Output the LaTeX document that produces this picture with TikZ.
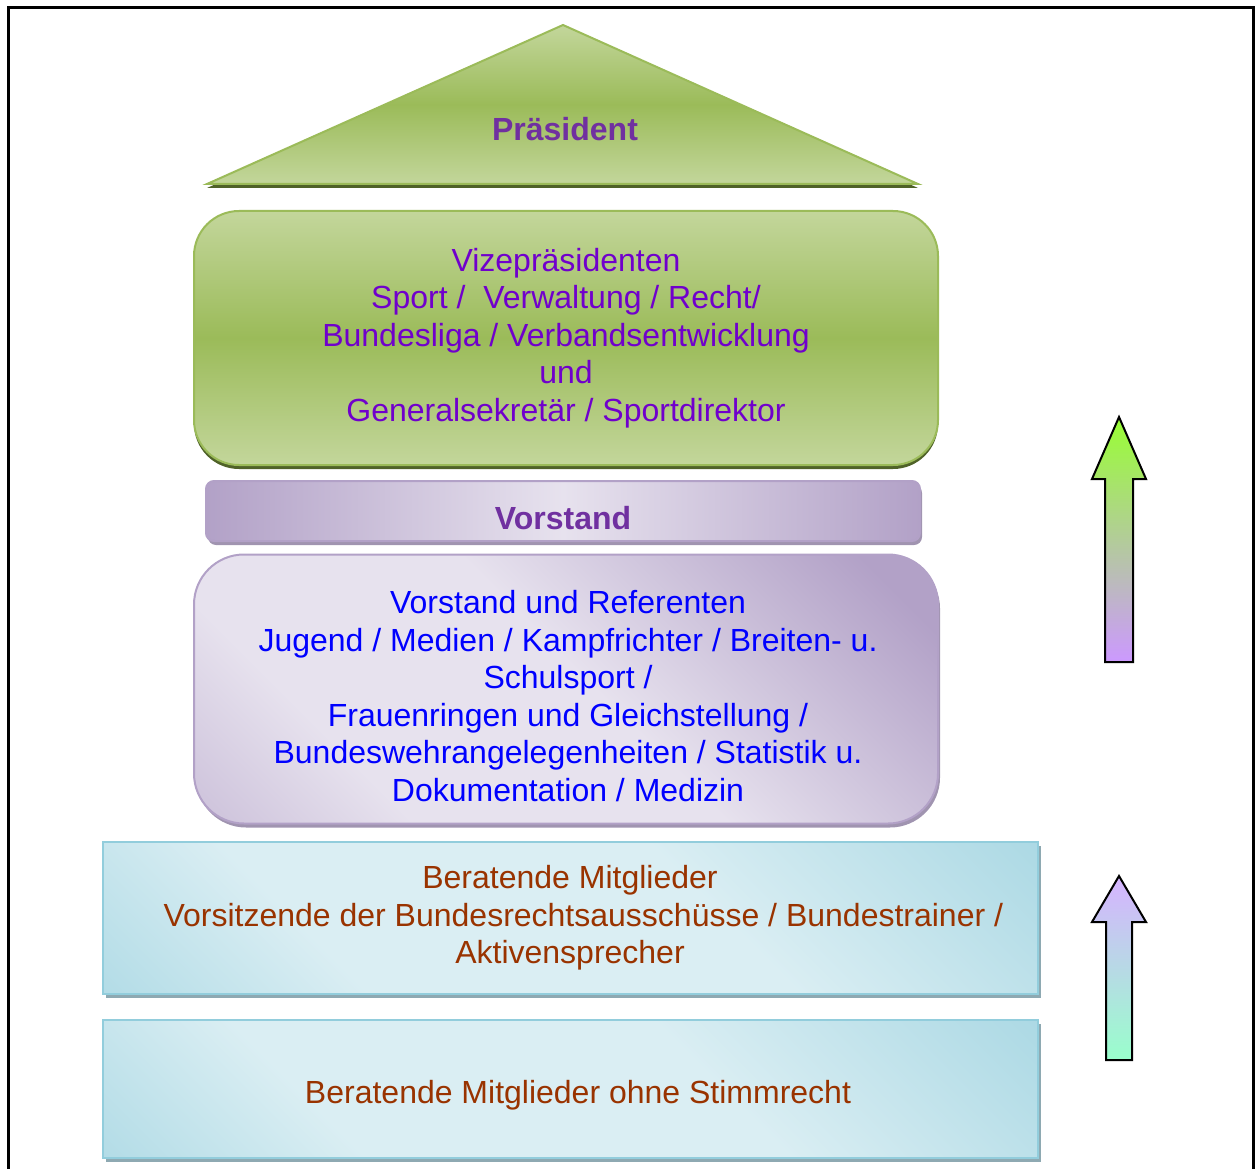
\documentclass[tikz,border=0pt]{standalone}
\usepackage{fontspec}
\setmainfont{Liberation Sans}
\usetikzlibrary{shadows}
\definecolor{leafgreen}{RGB}{155,187,89}
\definecolor{palegreen}{RGB}{195,214,155}
\definecolor{olivegreen}{RGB}{79,98,40}
\definecolor{palelilac}{RGB}{231,226,238}
\definecolor{lilac}{RGB}{178,161,199}
\definecolor{lilacshadow}{RGB}{160,148,176}
\definecolor{paleblue}{RGB}{218,238,243}
\definecolor{seablue}{RGB}{146,205,220}
\definecolor{blueshadow}{RGB}{142,169,178}
\definecolor{vizeviolet}{RGB}{112,0,204}
\definecolor{titleviolet}{RGB}{112,48,160}
\definecolor{rustbrown}{RGB}{153,51,0}
\definecolor{arrowgreen}{RGB}{153,255,51}
\definecolor{arrowlilac}{RGB}{204,153,255}
\definecolor{arrowmauve}{RGB}{214,179,255}
\definecolor{arrowaqua}{RGB}{153,255,204}
\pgfdeclareverticalshading{lilacdiag}{100bp}{color(0bp)=(lilac); color(30bp)=(palelilac); color(52bp)=(palelilac); color(80bp)=(lilac); color(100bp)=(lilac)}
\pgfdeclareverticalshading{bluediag}{100bp}{color(0bp)=(seablue); color(32bp)=(paleblue); color(60bp)=(paleblue); color(100bp)=(seablue)}

\begin{document}
\begin{tikzpicture}[x=1pt, y=-1pt,
  boxtext/.style={align=center, font=\fontsize{32}{37.5}\selectfont},
  titletext/.style={font=\bfseries\fontsize{32}{37.5}\selectfont, text=titleviolet},
  greenfill/.style={draw=leafgreen, line width=2pt, top color=palegreen, bottom color=palegreen, middle color=leafgreen,
    drop shadow={shadow xshift=0pt, shadow yshift=-4pt, fill=olivegreen, opacity=1}},
  lilacfill/.style={draw=lilac, line width=2pt,
    drop shadow={shadow xshift=2pt, shadow yshift=-4pt, fill=lilacshadow, opacity=1}},
  bluebox/.style={draw=seablue, line width=2pt, minimum width=935, inner sep=0pt,
    shading=bluediag, shading angle=-45,
    drop shadow={shadow xshift=3pt, shadow yshift=-4pt, fill=blueshadow, opacity=1}},
  uparrow/.style={draw=black, line width=2pt, line join=miter}
]
\useasboundingbox (0,0) rectangle (1255,1169);

% Frame
\draw[line width=3pt] (8,1169) -- (8,8) -- (1253,8) -- (1253,1169);

% Roof
\draw[greenfill] (207,184) -- (563,25) -- (918,184) -- cycle;
\node[titletext] (praesident) at (565,129) {Präsident};

% Vice presidents
\node[greenfill, boxtext, text=vizeviolet, rounded corners=45pt, minimum width=744, minimum height=254, inner sep=0pt] (vize) at (566,338)
  {Vizepräsidenten\\Sport /~ Verwaltung / Recht/\\Bundesliga / Verbandsentwicklung\\und\\Generalsekretär / Sportdirektor};

% Board
\node[lilacfill, rounded corners=8pt, minimum width=714, minimum height=60, inner sep=0pt,
  left color=lilac, right color=lilac, middle color=palelilac] (vorstand) at (563,511) {};
\node[titletext] (vorstandlabel) at (563,518) {Vorstand};

% Board and consultants
\node[lilacfill, rounded corners=50pt, minimum width=744, minimum height=269, inner sep=0pt,
  shading=lilacdiag, shading angle=-45] (referenten) at (566,689) {};
\node[boxtext, text=blue] (referentenlabel) at (568,696)
  {Vorstand und Referenten\\Jugend / Medien / Kampfrichter / Breiten- u.\\Schulsport /\\Frauenringen und Gleichstellung /\\Bundeswehrangelegenheiten / Statistik u.\\Dokumentation / Medizin};

% Advisory members
\node[bluebox, boxtext, text=rustbrown, minimum height=152] (beratend) at (570,918)
  {Beratende Mitglieder\\~~~Vorsitzende der Bundesrechtsausschüsse / Bundestrainer /\\Aktivensprecher};
\node[bluebox, minimum height=138] (ohnestimme) at (570,1089) {};
\node[boxtext, text=rustbrown] (ohnestimmelabel) at (578,1095) {Beratende Mitglieder ohne Stimmrecht};

% Arrows
\draw[uparrow, top color=arrowgreen, bottom color=arrowlilac]
  (1119,417) -- (1146,479) -- (1133,479) -- (1133,662) -- (1105,662) -- (1105,479) -- (1092,479) -- cycle;
\draw[uparrow, top color=arrowmauve, bottom color=arrowaqua]
  (1119,876) -- (1146,922) -- (1132,922) -- (1132,1060) -- (1106,1060) -- (1106,922) -- (1092,922) -- cycle;
\end{tikzpicture}
\end{document}
